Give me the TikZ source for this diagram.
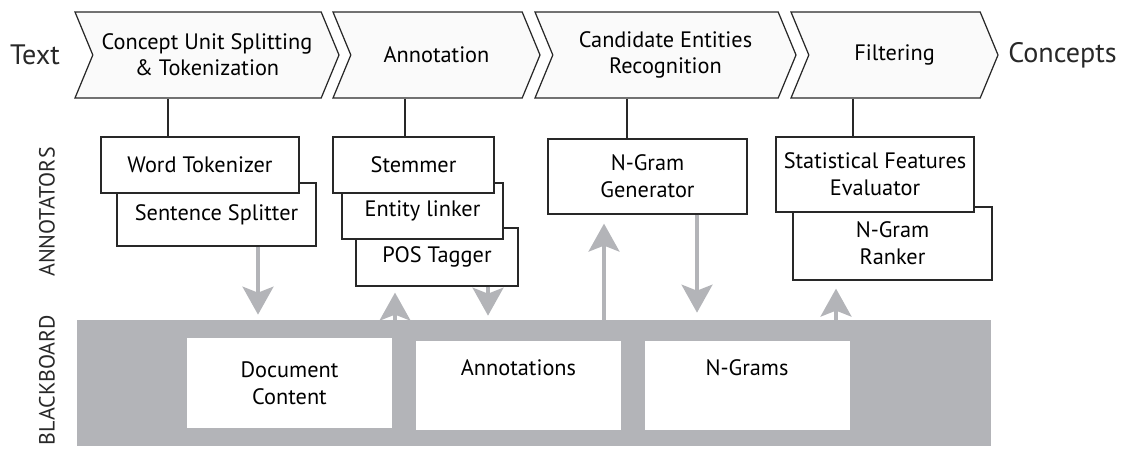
\documentclass[tikz,border=0pt]{standalone}
\usepackage{fontspec}
\setmainfont{PT Sans}
\usetikzlibrary{shapes.symbols,arrows.meta}

\definecolor{boardgray}{RGB}{179,180,184}
\definecolor{inkgray}{RGB}{40,40,40}

\tikzset{
  stage/.style={signal, signal to=east, signal from=west, signal pointer angle=135,
    draw=inkgray, fill=black!2, line width=0.7pt, minimum height=1.72cm,
    inner sep=0pt, align=center, font=\fontsize{12.7}{15}\selectfont},
  tool/.style={draw=inkgray, fill=white, line width=0.7pt, inner sep=0pt,
    align=center, font=\fontsize{12.7}{15.5}\selectfont},
  store/.style={fill=white, minimum width=4.1cm, minimum height=1.78cm, inner sep=0pt,
    align=center, font=\fontsize{12.7}{15.5}\selectfont},
  flow/.style={draw=boardgray, line width=1.8pt,
    -{Stealth[length=0.56cm,width=0.62cm,inset=0.12cm]}},
  link/.style={draw=inkgray, line width=0.7pt},
  lanelabel/.style={rotate=90, text=inkgray, font=\fontsize{12.5}{14}\selectfont},
  endlabel/.style={text=inkgray, font=\fontsize{16}{18}\selectfont},
}

\begin{document}
\begin{tikzpicture}
    \useasboundingbox (0,0) rectangle (22.5,9);
    % pipeline
    \node[stage, minimum width=5.28cm] (c1) at (4.14,7.9) {Concept Unit Splitting\\\& Tokenization};
    \node[stage, minimum width=4.14cm] (c2) at (8.73,7.9) {Annotation};
    \node[stage, minimum width=5.22cm] (c3) at (13.31,7.9) {Candidate Entities\\Recognition};
    \node[stage, minimum width=4.14cm] (c4) at (17.89,7.9) {Filtering};
    \node[endlabel] (txt) at (0.7,7.9) {Text};
    \node[endlabel] (cpt) at (21.25,7.9) {Concepts};

    % annotators
    \node[lanelabel] (annot) at (0.94,4.76) {ANNOTATORS};
    \node[tool, minimum width=3.98cm, minimum height=1.26cm] (ss) at (4.33,4.71) {Sentence Splitter};
    \node[tool, minimum width=3.96cm, minimum height=1.12cm] (wt) at (4.0,5.7) {Word Tokenizer};
    \node[tool, minimum width=3.24cm, minimum height=1.16cm] (pos) at (8.74,3.86) {POS Tagger};
    \node[tool, minimum width=3.22cm, minimum height=1.12cm] (el) at (8.45,4.78) {Entity linker};
    \node[tool, minimum width=3.22cm, minimum height=1.12cm] (st) at (8.27,5.7) {Stemmer};
    \node[tool, minimum width=3.98cm, minimum height=1.5cm] (ngg) at (12.95,5.47) {N-Gram\\Generator};
    \node[tool, minimum width=3.98cm, minimum height=1.46cm] (rk) at (17.85,4.13) {N-Gram\\Ranker};
    \node[tool, minimum width=3.96cm, minimum height=1.5cm] (sfe) at (17.5,5.51) {Statistical Features\\Evaluator};

    \path ([xshift=-0.64cm]wt.north) coordinate (wtin);
    \path ([xshift=-0.17cm]st.north) coordinate (stin);
    \path ([xshift=-0.41cm]ngg.north) coordinate (nggin);
    \path ([xshift=-0.44cm]sfe.north) coordinate (sfein);
    \draw[link] (wtin |- c1.south) -- (wtin);
    \draw[link] (stin |- c2.south) -- (stin);
    \draw[link] (nggin |- c3.south) -- (nggin);
    \draw[link] (sfein |- c4.south) -- (sfein);

    % blackboard
    \node[lanelabel] (board) at (0.94,1.4) {BLACKBOARD};
    \node[fill=boardgray, minimum width=18.28cm, minimum height=2.52cm, inner sep=0pt] (bb) at (10.68,1.34) {};
    \node[store, minimum height=1.8cm] (dc) at (5.79,1.34) {Document\\Content};
    \node[store] (an) at (10.37,1.29) {Annotations\\\strut};
    \node[store] (ng) at (14.94,1.29) {N-Grams\\\strut};

    \path ([xshift=0.83cm]ss.south) coordinate (ssout);
    \path ([xshift=-0.84cm]pos.south) coordinate (posin);
    \path ([xshift=1.02cm]pos.south) coordinate (posout);
    \path ([xshift=-0.87cm]ngg.south) coordinate (nggup);
    \path ([xshift=0.99cm]ngg.south) coordinate (nggout);
    \path ([xshift=-1.13cm]rk.south) coordinate (rkin);
    \draw[flow, shorten >=0.1cm] (ssout) -- (ssout |- bb.north);
    \draw[flow, shorten >=0.12cm] (posin |- bb.north) -- (posin);
    \draw[flow, shorten >=0.08cm] (posout) -- (posout |- bb.north);
    \draw[flow, shorten >=0.18cm] (nggup |- bb.north) -- (nggup);
    \draw[flow, shorten >=0.14cm] (nggout) -- (nggout |- bb.north);
    \draw[flow, shorten >=0.16cm] (rkin |- bb.north) -- (rkin);
\end{tikzpicture}
\end{document}
